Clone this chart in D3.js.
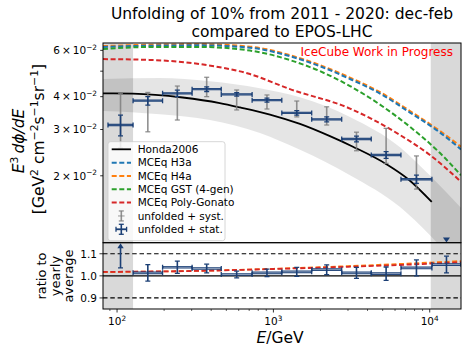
<!DOCTYPE html>
<html><head><meta charset="utf-8">
<script src="https://cdn.jsdelivr.net/npm/d3@7"></script>
<style>body{margin:0;background:#fff}svg{display:block;font-family:"DejaVu Sans",sans-serif}</style>
</head><body><svg id="c" width="468" height="354"></svg>
<script>
// ---------------- data ----------------
const titleLines = ["Unfolding of 10% from 2011 - 2020: dec-feb", "compared to EPOS-LHC"];
const watermark = "IceCube Work in Progress";
const binEdges = [87.5, 126.6, 195.5, 302, 464, 731, 1132, 1758, 2735, 4227, 6546, 10330, 15850];
const grayLeft = [81.3, 126.6];
const grayRight = [10150, 15850];
const flux = [0.0312, 0.0386, 0.0412, 0.0427, 0.0408, 0.0388, 0.0347, 0.0328, 0.0276, 0.0240, 0.0194, null];
const statRel = [0.09, 0.037, 0.028, 0.02, 0.015, 0.017, 0.02, 0.022, 0.025, 0.03, 0.036, 0.038];
const systLo = [0.0255, 0.0294, 0.0326, 0.0400, 0.0356, 0.0359, 0.0335, 0.0312, 0.0249, 0.0223, 0.0178, null];
const systHi = [0.0412, 0.0415, 0.0439, 0.0474, 0.0424, 0.0406, 0.0385, 0.0366, 0.0293, 0.0303, 0.0238, null];
const upperLimitLast = 0.0114;
const ratio = [null, 1.0135, 1.039, 1.033, 1.006, 1.0135, 1.018, 1.028, 1.0135, 1.010, 1.036, 1.051];
const ratioErr = [null, 0.037, 0.028, 0.02, 0.015, 0.017, 0.02, 0.022, 0.025, 0.03, 0.036, 0.038];
const ratioFirstLow = 1.036;

const hondaE = [81, 126, 263, 454, 611, 951, 1479, 2300, 3230, 5310, 7290, 10300];
const hondaV = [0.0412, 0.0411, 0.0397, 0.0378, 0.0364, 0.0342, 0.0315, 0.0283, 0.0258, 0.0221, 0.0194, 0.0159];
const bandE = [81, 187, 392, 820, 1479, 3090, 6460, 10000, 15850];
const bandUp = [0.0467, 0.0471, 0.0458, 0.0431, 0.0398, 0.0335, 0.0257, 0.0201, 0.0151];
const bandLo = [0.0353, 0.0343, 0.0326, 0.0291, 0.0251, 0.0201, 0.0152, 0.0119, 0.00877];

const modelE = [81.3, 162, 339, 708, 1276, 1986, 3090, 4808, 7482, 11640, 15850];
const h4a = [0.0623, 0.06305, 0.06327, 0.0620, 0.05755, 0.05273, 0.04727, 0.04163, 0.03526, 0.02960, 0.02580];
const h3a = [0.0618, 0.0625, 0.0627, 0.0614, 0.0570, 0.0522, 0.0467, 0.0411, 0.0348, 0.0292, 0.0252];
const gst = [0.0607, 0.0618, 0.0618, 0.0599, 0.0551, 0.0500, 0.0439, 0.0373, 0.0307, 0.0244, 0.0201];
const pgE = [81.3, 162, 339, 708, 1276, 3090, 6457, 10040, 15850];
const pg = [0.05558, 0.05519, 0.05319, 0.04875, 0.04274, 0.03604, 0.02858, 0.02399, 0.01898];

const ratioModelE = [81, 300, 1000, 3000, 10000, 15850];
const ratioRed = [1.018, 1.022, 1.031, 1.041, 1.055, 1.062];
const ratioOrange = [1.017, 1.022, 1.032, 1.044, 1.060, 1.067];

const yTickVals = [0.02, 0.03, 0.04, 0.05, 0.06];
const yTickLabels = {0.02: "2", 0.03: "3", 0.04: "4", 0.06: "6"};
const rTickVals = [0.9, 1.0, 1.1];
const xMajor = [100, 1000, 10000];
const xMajorLabels = ["2", "3", "4"];
const legendLabels = ["Honda2006", "MCEq H3a", "MCEq H4a", "MCEq GST (4-gen)", "MCEq Poly-Gonato", "unfolded + syst.", "unfolded + stat."];

// ---------------- layout ----------------
const L = 103, R = 461, T1 = 43, B1 = 242.7, T2 = 242.7, B2 = 309;
const svg = d3.select("#c");
const x = d3.scaleLog().domain([81.3, 15850]).range([L, R]);
const y = d3.scaleLog().domain([0.01113, 0.0640]).range([B1, T1]);
const yr = d3.scaleLinear().domain([0.85, 1.15]).range([B2, T2]);
const navy = "#1b3f75";
const C = {blue: "#1f77b4", orange: "#ff7f0e", green: "#2ca02c", red: "#d62728"};

const defs = svg.append("defs");
defs.append("clipPath").attr("id", "cp1").append("rect").attr("x", L).attr("y", T1).attr("width", R - L).attr("height", B1 - T1);
defs.append("clipPath").attr("id", "cp2").append("rect").attr("x", L).attr("y", T2).attr("width", R - L).attr("height", B2 - T2);

function rich(sel, parts, fs) {
  let shift = 0;
  parts.forEach(p => {
    const t = sel.append("tspan").text(p.t);
    const target = p.sup ? -fs * 0.42 : 0;
    if (target !== shift) { t.attr("dy", target - shift); shift = target; }
    t.attr("font-size", p.sup ? fs * 0.7 : fs);
    if (p.it) t.attr("font-style", "italic");
  });
}

// ---------------- main panel ----------------
const g1 = svg.append("g").attr("clip-path", "url(#cp1)");
[grayLeft, grayRight].forEach(r => g1.append("rect").attr("x", x(r[0])).attr("y", T1).attr("width", x(r[1]) - x(r[0])).attr("height", B1 - T1).attr("fill", "#000").attr("opacity", 0.15));
const band = bandE.map((e, i) => ({e, u: bandUp[i], l: bandLo[i]}));
g1.append("path").datum(band).attr("fill", "#000").attr("opacity", 0.1)
  .attr("d", d3.area().x(d => x(d.e)).y0(d => y(d.l)).y1(d => y(d.u)).curve(d3.curveMonotoneX));

const line = d3.line().x(d => x(d[0])).y(d => y(d[1])).curve(d3.curveMonotoneX);
const models = [[modelE, h4a, C.orange], [modelE, h3a, C.blue], [modelE, gst, C.green], [pgE, pg, C.red]];
models.forEach(([E, V, col]) => g1.append("path").datum(E.map((e, i) => [e, V[i]]))
  .attr("fill", "none").attr("stroke", col).attr("stroke-width", 2).attr("stroke-dasharray", "5,2.6").attr("d", line));
g1.append("path").datum(hondaE.map((e, i) => [e, hondaV[i]])).attr("fill", "none").attr("stroke", "#000").attr("stroke-width", 1.8).attr("d", line);

// data points
const centers = binEdges.slice(0, -1).map((e, i) => Math.sqrt(e * binEdges[i + 1]));
const cap = 2.5;
function vbar(g, cx, y0, y1, col, w, op) {
  g.append("line").attr("x1", cx).attr("x2", cx).attr("y1", y0).attr("y2", y1).attr("stroke", col).attr("stroke-width", w).attr("opacity", op);
  [y0, y1].forEach(yy => g.append("line").attr("x1", cx - cap).attr("x2", cx + cap).attr("y1", yy).attr("y2", yy).attr("stroke", col).attr("stroke-width", w * 0.8).attr("opacity", op));
}
function hbar(g, x0, x1, yy, col, w) {
  g.append("line").attr("x1", x0).attr("x2", x1).attr("y1", yy).attr("y2", yy).attr("stroke", col).attr("stroke-width", w);
  [x0, x1].forEach(xx => g.append("line").attr("x1", xx).attr("x2", xx).attr("y1", yy - cap).attr("y2", yy + cap).attr("stroke", col).attr("stroke-width", 1.3));
}
flux.forEach((f, i) => {
  if (f == null) return;
  vbar(g1, x(centers[i]), y(systHi[i]), y(systLo[i]), "#7f7f7f", 1.6, 0.85);
});
flux.forEach((f, i) => {
  if (f == null) return;
  const cx = x(centers[i]), x0 = x(binEdges[i]), x1 = x(binEdges[i + 1]), yy = y(f);
  hbar(g1, x0, x1, yy, navy, 2.3);
  g1.append("line").attr("x1", x0 + 1).attr("x2", x1 - 1).attr("y1", yy).attr("y2", yy).attr("stroke", "#5f7aa3").attr("stroke-width", 0.6);
  vbar(g1, cx, y(f * (1 + statRel[i])), y(f * (1 - statRel[i])), navy, 1.6, 1);
});
{
  const cx = x(centers[11]), cy = y(upperLimitLast);
  g1.append("path").attr("d", `M${cx - 3.5},${cy - 2.5}L${cx + 3.5},${cy - 2.5}L${cx},${cy + 2.5}Z`).attr("fill", navy);
}

// watermark
svg.append("text").attr("x", 453).attr("y", 56).attr("text-anchor", "end").attr("font-size", 12).attr("fill", "#ff0000").text(watermark);

// legend
const lg = svg.append("g");
lg.append("rect").attr("x", 108).attr("y", 141.7).attr("width", 117).attr("height", 99).attr("rx", 2.5)
  .attr("fill", "#fff").attr("fill-opacity", 0.8).attr("stroke", "#cccccc").attr("stroke-width", 0.8);
const lcols = ["#000", C.blue, C.orange, C.green, C.red];
legendLabels.forEach((lab, i) => {
  const yy = 149.3 + i * 13.33;
  if (i < 5) {
    lg.append("line").attr("x1", 111.7).attr("x2", 131).attr("y1", yy).attr("y2", yy).attr("stroke", lcols[i])
      .attr("stroke-width", i === 0 ? 1.8 : 2).attr("stroke-dasharray", i === 0 ? null : "5,2.6");
  } else if (i === 5) {
    vbar(lg, 121.3, yy - 5, yy + 5, "#7f7f7f", 1.6, 0.85);
    lg.append("line").attr("x1", 118).attr("x2", 124.6).attr("y1", yy).attr("y2", yy).attr("stroke", "#7f7f7f").attr("stroke-width", 1.3).attr("opacity", 0.6);
  } else {
    vbar(lg, 121.3, yy - 5, yy + 5, navy, 1.6, 1);
    hbar(lg, 116, 126.6, yy, navy, 1.8);
  }
  lg.append("text").attr("x", 137.7).attr("y", yy + 3.8).attr("font-size", 10.5).attr("fill", "#000").text(lab);
});

// main frame + y ticks
svg.append("rect").attr("x", L).attr("y", T1).attr("width", R - L).attr("height", B1 - T1).attr("fill", "none").attr("stroke", "#000").attr("stroke-width", 1);
yTickVals.forEach(v => {
  const yy = y(v);
  svg.append("line").attr("x1", L - 2.8).attr("x2", L).attr("y1", yy).attr("y2", yy).attr("stroke", "#000").attr("stroke-width", 0.8);
  if (yTickLabels[v]) {
    const t = svg.append("text").attr("x", 97).attr("y", yy + 3.8).attr("text-anchor", "end").attr("fill", "#000");
    rich(t, [{t: yTickLabels[v] + "\u2009×\u200910"}, {t: "\u22122", sup: true}], 10.5);
  }
});

// ---------------- ratio panel ----------------
const g2 = svg.append("g").attr("clip-path", "url(#cp2)");
[grayLeft, grayRight].forEach(r => g2.append("rect").attr("x", x(r[0])).attr("y", T2).attr("width", x(r[1]) - x(r[0])).attr("height", B2 - T2).attr("fill", "#000").attr("opacity", 0.15));
[0.9, 1.1].forEach(v => g2.append("line").attr("x1", L).attr("x2", R).attr("y1", yr(v)).attr("y2", yr(v)).attr("stroke", "#000").attr("stroke-width", 1.2).attr("stroke-dasharray", "4.5,2.8"));
g2.append("line").attr("x1", L).attr("x2", R).attr("y1", yr(1)).attr("y2", yr(1)).attr("stroke", "#000").attr("stroke-width", 1.3);
const rline = d3.line().x(d => x(d[0])).y(d => yr(d[1])).curve(d3.curveMonotoneX);
[[ratioOrange, C.orange], [ratioRed, C.red]].forEach(([V, col]) => g2.append("path").datum(ratioModelE.map((e, i) => [e, V[i]]))
  .attr("fill", "none").attr("stroke", col).attr("stroke-width", 1.8).attr("stroke-dasharray", "5,2.6").attr("d", rline));
ratio.forEach((r, i) => {
  const cx = x(centers[i]);
  if (r == null) {
    const yt = yr(1.15) + 0.5;
    g2.append("line").attr("x1", cx).attr("x2", cx).attr("y1", yr(ratioFirstLow)).attr("y2", yt + 4).attr("stroke", navy).attr("stroke-width", 1.6);
    g2.append("line").attr("x1", cx - cap).attr("x2", cx + cap).attr("y1", yr(ratioFirstLow)).attr("y2", yr(ratioFirstLow)).attr("stroke", navy).attr("stroke-width", 1.3);
    g2.append("path").attr("d", `M${cx - 3.2},${yt + 5}L${cx + 3.2},${yt + 5}L${cx},${yt}Z`).attr("fill", navy);
    return;
  }
  const x0 = x(binEdges[i]), x1 = x(binEdges[i + 1]), yy = yr(r);
  hbar(g2, x0, x1, yy, navy, 2.6);
  g2.append("line").attr("x1", x0 + 1).attr("x2", x1 - 1).attr("y1", yy).attr("y2", yy).attr("stroke", "#a9b8cf").attr("stroke-width", 0.8);
  vbar(g2, cx, yr(r + ratioErr[i]), yr(r - ratioErr[i]), navy, 1.6, 1);
});
svg.append("rect").attr("x", L).attr("y", T2).attr("width", R - L).attr("height", B2 - T2).attr("fill", "none").attr("stroke", "#000").attr("stroke-width", 1);
rTickVals.forEach(v => {
  const yy = yr(v);
  svg.append("line").attr("x1", L - 3.5).attr("x2", L).attr("y1", yy).attr("y2", yy).attr("stroke", "#000").attr("stroke-width", 0.8);
  svg.append("text").attr("x", 97).attr("y", yy + 3.8).attr("text-anchor", "end").attr("font-size", 10.5).attr("fill", "#000").text(v.toFixed(1));
});
// x ticks
const minors = [];
[10, 100, 1000, 10000].forEach(d => { for (let k = 2; k <= 9; k++) { const v = d * k; if (v > 81.3 && v < 15850) minors.push(v); } });
minors.forEach(v => svg.append("line").attr("x1", x(v)).attr("x2", x(v)).attr("y1", B2).attr("y2", B2 + 2).attr("stroke", "#000").attr("stroke-width", 0.6));
xMajor.forEach((v, i) => {
  svg.append("line").attr("x1", x(v)).attr("x2", x(v)).attr("y1", B2).attr("y2", B2 + 3.5).attr("stroke", "#000").attr("stroke-width", 0.8);
  const t = svg.append("text").attr("x", x(v)).attr("y", 325).attr("text-anchor", "middle").attr("fill", "#000");
  rich(t, [{t: "10"}, {t: xMajorLabels[i], sup: true}], 10.5);
});

// ---------------- titles / labels ----------------
titleLines.forEach((s, i) => svg.append("text").attr("x", 282).attr("y", 18.5 + i * 18).attr("text-anchor", "middle").attr("font-size", 15.5).attr("fill", "#000").text(s));
{
  const t = svg.append("text").attr("x", 280).attr("y", 343).attr("text-anchor", "middle").attr("fill", "#000");
  rich(t, [{t: "E", it: true}, {t: "/GeV"}], 15.5);
}
{
  const t1 = svg.append("text").attr("transform", "translate(24,141) rotate(-90)").attr("text-anchor", "middle").attr("fill", "#000");
  rich(t1, [{t: "E", it: true}, {t: "3", sup: true}, {t: "\u2009dϕ/dE", it: true}], 15.5);
  const t2 = svg.append("text").attr("transform", "translate(44,139) rotate(-90)").attr("text-anchor", "middle").attr("fill", "#000");
  rich(t2, [{t: "[GeV"}, {t: "2", sup: true}, {t: " cm"}, {t: "\u22122", sup: true}, {t: "s"}, {t: "\u22121", sup: true}, {t: "sr"}, {t: "\u22121", sup: true}, {t: "]"}], 15.5);
}
["ratio to", "yearly", "average"].forEach((s, i) => svg.append("text").attr("transform", `translate(${46 + i * 13.5},${276}) rotate(-90)`)
  .attr("text-anchor", "middle").attr("font-size", 13).attr("fill", "#000").text(s));
</script></body></html>
